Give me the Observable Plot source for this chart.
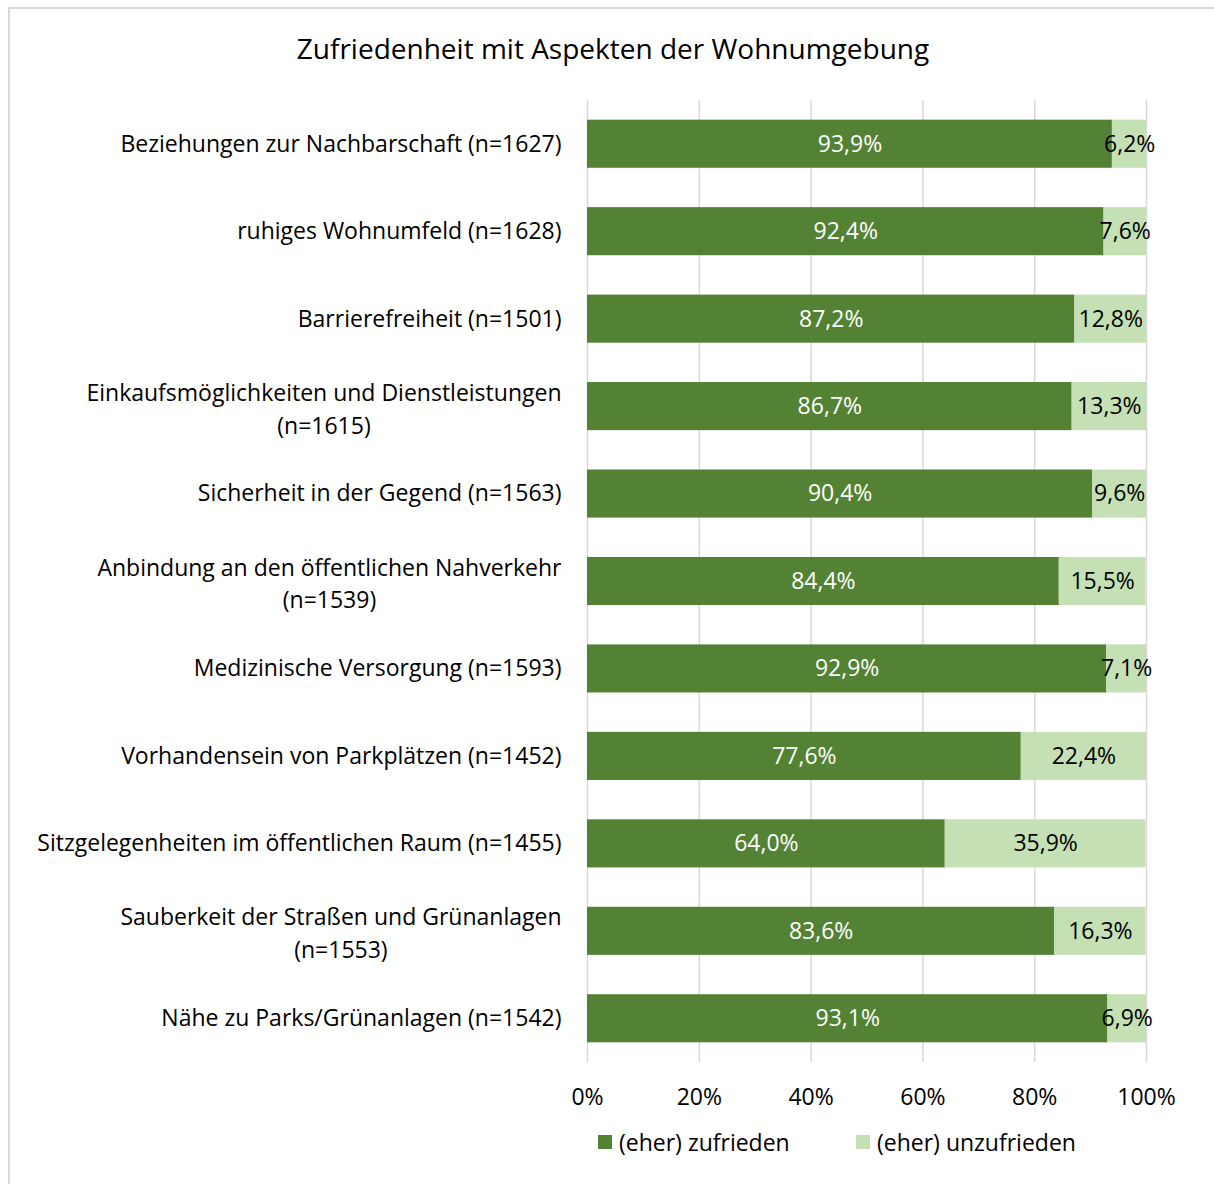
<!DOCTYPE html>
<html><head><meta charset="utf-8">
<script src="https://cdn.jsdelivr.net/npm/d3@7"></script>
<script src="https://cdn.jsdelivr.net/npm/@observablehq/plot@0.6"></script>
<style>
body{margin:0;background:#fff;font-family:"Open Sans",Lato,sans-serif;}
#wrap{position:relative;width:1214px;height:1184px;overflow:hidden;}
#frame{position:absolute;left:8px;top:7px;width:1300px;height:1300px;border:2px solid #d9d9d9;box-sizing:border-box;}
#title{position:absolute;top:29px;left:0;width:1226px;text-align:center;font-size:28px;color:#000;}
#chart{position:absolute;left:0;top:0;}
.item{position:absolute;top:1126px;display:flex;align-items:center;font-size:23px;color:#000;white-space:nowrap;}
.sw{display:inline-block;width:14px;height:14px;margin-right:7px;}
</style></head>
<body><div id="wrap"><div id="frame"></div><div id="title">Zufriedenheit mit Aspekten der Wohnumgebung</div><div id="chart"></div>
<span class="item" style="left:598px"><span class="sw" style="background:#548235"></span>(eher) zufrieden</span><span class="item" style="left:856px"><span class="sw" style="background:#C5E0B4"></span>(eher) unzufrieden</span></div>
<script>
const categories = [
 "Beziehungen zur Nachbarschaft (n=1627)",
 "ruhiges Wohnumfeld (n=1628)",
 "Barrierefreiheit (n=1501)",
 "Einkaufsmöglichkeiten und Dienstleistungen\n(n=1615)",
 "Sicherheit in der Gegend (n=1563)",
 "Anbindung an den öffentlichen Nahverkehr\n(n=1539)",
 "Medizinische Versorgung (n=1593)",
 "Vorhandensein von Parkplätzen (n=1452)",
 "Sitzgelegenheiten im öffentlichen Raum (n=1455)",
 "Sauberkeit der Straßen und Grünanlagen\n(n=1553)",
 "Nähe zu Parks/Grünanlagen (n=1542)"
];
const zufrieden = [93.9, 92.4, 87.2, 86.7, 90.4, 84.4, 92.9, 77.6, 64.0, 83.6, 93.1];
const unzufrieden = [6.2, 7.6, 12.8, 13.3, 9.6, 15.5, 7.1, 22.4, 35.9, 16.3, 6.9];
const series = ["(eher) zufrieden", "(eher) unzufrieden"];
const colors = ["#548235", "#C5E0B4"];
const xTicks = [0, 20, 40, 60, 80, 100];

const data = [];
categories.forEach((c, i) => {
  data.push({cat: c, series: series[0], value: zufrieden[i]});
  data.push({cat: c, series: series[1], value: unzufrieden[i]});
});
const fmt = v => v.toFixed(1).replace(".", ",") + "%";

const FS = 23;
const FONT = "'Open Sans', Lato, sans-serif";
const ctx = document.createElement("canvas").getContext("2d");
ctx.font = `${FS}px 'Open Sans'`;
const labelMarks = categories.map(c => {
  const lines = c.split("\n");
  if (lines.length === 1) {
    return Plot.text([c], {x: () => 0, y: d => d, text: d => d, textAnchor: "end", dx: -26, fontSize: FS, fill: "#000"});
  }
  const w = Math.max(...lines.map(l => ctx.measureText(l).width));
  return Plot.text([c], {x: () => 0, y: d => d, text: d => d, textAnchor: "middle", dx: -26 - w / 2, fontSize: FS, fill: "#000", lineHeight: 1.43});
});

const stackOpts = {x: "value", y: "cat", z: "series", order: series};
const chart = Plot.plot({
  width: 1214,
  height: 1120,
  marginLeft: 587,
  marginRight: 68,
  marginTop: 100,
  marginBottom: 58,
  style: {fontFamily: FONT, background: "transparent"},
  x: {domain: [0, 100], clamp: true, axis: null},
  y: {domain: categories, axis: null, paddingInner: 0.45, paddingOuter: 0.225, round: false},
  color: {domain: series, range: colors},
  marks: [
    Plot.ruleX(xTicks, {stroke: "#d9d9d9", strokeWidth: 1.5}),
    Plot.barX(data, Plot.stackX({...stackOpts, fill: "series"})),
    Plot.text(data, Plot.stackX({...stackOpts, x: "value", text: d => fmt(d.value), fill: d => d.series === series[0] ? "#ffffff" : "#000000", fontSize: FS})),
    Plot.text(xTicks, {x: d => d, frameAnchor: "bottom", dy: 42, text: d => d + "%", fontSize: FS, fill: "#000"}),
    ...labelMarks
  ]
});
document.getElementById("chart").appendChild(chart);
</script>
</body></html>
